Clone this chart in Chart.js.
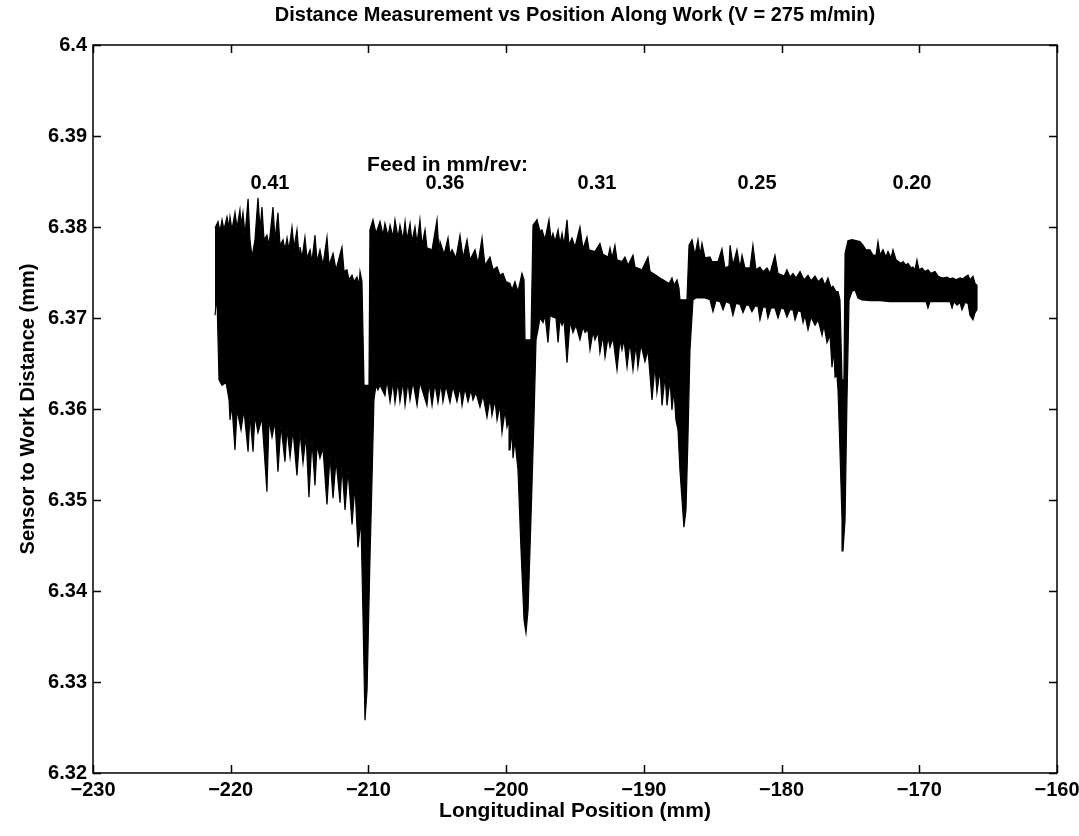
<!DOCTYPE html>
<html>
<head>
<meta charset="utf-8">
<script src="https://cdn.jsdelivr.net/npm/chart.js@4.4.1/dist/chart.umd.min.js"></script>
<style>
  html, body { margin: 0; padding: 0; background: #fff; }
</style>
</head>
<body>
<canvas id="graficoDistancia" width="1079" height="836"></canvas>
<script>
// Envolvente superior e inferior de la señal [posición mm, distancia mm]
const seg041Top = [[-221.14, 6.3799], [-220.92, 6.3806], [-220.78, 6.3795], [-220.63, 6.3808], [-220.49, 6.3797], [-220.27, 6.3811], [-220.12, 6.3799], [-220.05, 6.3811], [-219.91, 6.3797], [-219.69, 6.3816], [-219.54, 6.3799], [-219.33, 6.3819], [-219.25, 6.3802], [-219.11, 6.3816], [-218.96, 6.3791], [-218.74, 6.3831], [-218.60, 6.3786], [-218.45, 6.3767], [-218.24, 6.3786], [-218.02, 6.3832], [-217.87, 6.3797], [-217.73, 6.3822], [-217.58, 6.3786], [-217.37, 6.3791], [-217.22, 6.3780], [-216.93, 6.3822], [-216.78, 6.3786], [-216.57, 6.3816], [-216.42, 6.3780], [-216.20, 6.3786], [-216.06, 6.3775], [-215.91, 6.3788], [-215.77, 6.3775], [-215.55, 6.3800], [-215.40, 6.3777], [-215.19, 6.3797], [-215.04, 6.3769], [-214.97, 6.3778], [-214.82, 6.3766], [-214.61, 6.3789], [-214.46, 6.3766], [-214.24, 6.3775], [-214.10, 6.3762], [-213.88, 6.3791], [-213.73, 6.3762], [-213.52, 6.3775], [-213.30, 6.3758], [-213.01, 6.3789], [-212.86, 6.3758], [-212.57, 6.3771], [-212.35, 6.3753], [-211.92, 6.3778], [-211.77, 6.3751], [-211.56, 6.3753], [-211.41, 6.3742], [-211.19, 6.3747], [-211.05, 6.3740], [-210.83, 6.3745], [-210.68, 6.3736], [-210.61, 6.3751], [-210.47, 6.3740], [-210.32, 6.3626], [-209.96, 6.3626]];
const seg041Bot = [[-221.14, 6.3703], [-221.00, 6.3725], [-220.85, 6.3632], [-220.63, 6.3626], [-220.34, 6.3629], [-220.12, 6.3610], [-220.05, 6.3588], [-219.91, 6.3604], [-219.69, 6.3555], [-219.54, 6.3599], [-219.25, 6.3577], [-219.04, 6.3599], [-218.74, 6.3553], [-218.60, 6.3593], [-218.38, 6.3553], [-218.24, 6.3593], [-218.02, 6.3574], [-217.73, 6.3590], [-217.37, 6.3509], [-217.22, 6.3588], [-217.00, 6.3569], [-216.78, 6.3586], [-216.57, 6.3531], [-216.35, 6.3582], [-216.06, 6.3542], [-215.91, 6.3579], [-215.69, 6.3547], [-215.48, 6.3577], [-215.19, 6.3527], [-214.97, 6.3575], [-214.75, 6.3541], [-214.53, 6.3571], [-214.32, 6.3503], [-214.10, 6.3566], [-213.88, 6.3516], [-213.73, 6.3560], [-213.52, 6.3546], [-213.30, 6.3557], [-213.01, 6.3495], [-212.79, 6.3549], [-212.57, 6.3502], [-212.35, 6.3544], [-212.06, 6.3497], [-211.92, 6.3538], [-211.70, 6.3489], [-211.48, 6.3533], [-211.19, 6.3473], [-210.98, 6.3516], [-210.76, 6.3448], [-210.54, 6.3478], [-210.39, 6.3368], [-210.25, 6.3258], [-210.10, 6.3291], [-209.89, 6.3434], [-209.74, 6.3522], [-209.60, 6.3610]];

const seg036Top = [[-209.89, 6.3797], [-209.67, 6.3808], [-209.45, 6.3793], [-209.16, 6.3806], [-208.94, 6.3791], [-208.80, 6.3804], [-208.58, 6.3790], [-208.43, 6.3802], [-208.22, 6.3789], [-208.07, 6.3808], [-207.85, 6.3788], [-207.71, 6.3802], [-207.49, 6.3786], [-207.34, 6.3806], [-207.20, 6.3786], [-206.98, 6.3804], [-206.84, 6.3784], [-206.62, 6.3800], [-206.47, 6.3782], [-206.26, 6.3808], [-206.11, 6.3780], [-205.89, 6.3797], [-205.75, 6.3777], [-205.38, 6.3775], [-205.02, 6.3808], [-204.88, 6.3773], [-204.80, 6.3784], [-204.51, 6.3770], [-204.22, 6.3788], [-204.08, 6.3770], [-203.93, 6.3775], [-203.64, 6.3766], [-203.35, 6.3791], [-203.13, 6.3766], [-202.84, 6.3786], [-202.62, 6.3764], [-202.26, 6.3775], [-202.04, 6.3760], [-201.75, 6.3788], [-201.54, 6.3758], [-201.17, 6.3767], [-200.95, 6.3753], [-200.66, 6.3756], [-200.45, 6.3747], [-200.23, 6.3749], [-200.01, 6.3740], [-199.72, 6.3738], [-199.57, 6.3731], [-199.36, 6.3740], [-199.14, 6.3729], [-198.85, 6.3749], [-198.70, 6.3742], [-198.63, 6.3676], [-198.20, 6.3676]];
const seg036Bot = [[-209.45, 6.3626], [-209.31, 6.3621], [-209.16, 6.3626], [-208.80, 6.3615], [-208.65, 6.3632], [-208.43, 6.3608], [-208.22, 6.3630], [-208.07, 6.3607], [-207.85, 6.3630], [-207.71, 6.3608], [-207.49, 6.3630], [-207.34, 6.3604], [-207.13, 6.3630], [-206.98, 6.3610], [-206.76, 6.3630], [-206.47, 6.3604], [-206.26, 6.3629], [-205.75, 6.3604], [-205.60, 6.3629], [-205.38, 6.3604], [-205.17, 6.3628], [-204.95, 6.3607], [-204.73, 6.3628], [-204.59, 6.3608], [-204.37, 6.3626], [-204.08, 6.3607], [-203.86, 6.3625], [-203.57, 6.3608], [-203.35, 6.3624], [-203.20, 6.3604], [-202.99, 6.3623], [-202.77, 6.3608], [-202.55, 6.3621], [-202.41, 6.3610], [-202.19, 6.3618], [-201.90, 6.3602], [-201.68, 6.3615], [-201.39, 6.3591], [-201.17, 6.3612], [-201.03, 6.3593], [-200.81, 6.3610], [-200.66, 6.3588], [-200.45, 6.3604], [-200.30, 6.3574], [-200.08, 6.3599], [-199.94, 6.3580], [-199.79, 6.3588], [-199.72, 6.3555], [-199.57, 6.3577], [-199.50, 6.3546], [-199.36, 6.3566], [-199.14, 6.3533], [-198.92, 6.3445], [-198.70, 6.3368], [-198.56, 6.3354], [-198.41, 6.3379], [-198.20, 6.3478], [-197.98, 6.3588], [-197.83, 6.3676]];

const seg031Top = [[-198.05, 6.3802], [-197.76, 6.3808], [-197.54, 6.3795], [-197.40, 6.3797], [-197.18, 6.3786], [-196.89, 6.3808], [-196.74, 6.3786], [-196.60, 6.3793], [-196.45, 6.3784], [-196.23, 6.3797], [-196.09, 6.3782], [-195.94, 6.3793], [-195.80, 6.3780], [-195.58, 6.3808], [-195.44, 6.3780], [-195.22, 6.3788], [-195.00, 6.3778], [-194.64, 6.3800], [-194.42, 6.3776], [-194.13, 6.3789], [-193.98, 6.3775], [-193.55, 6.3773], [-193.19, 6.3782], [-192.97, 6.3770], [-192.60, 6.3767], [-192.46, 6.3777], [-192.31, 6.3766], [-192.10, 6.3780], [-191.95, 6.3764], [-191.59, 6.3762], [-191.37, 6.3767], [-191.15, 6.3758], [-190.79, 6.3769], [-190.64, 6.3756], [-190.13, 6.3753], [-189.70, 6.3767], [-189.55, 6.3751], [-189.12, 6.3747], [-188.83, 6.3744], [-188.61, 6.3742], [-188.17, 6.3738], [-187.96, 6.3744], [-187.81, 6.3736], [-187.59, 6.3742], [-187.45, 6.3733], [-187.38, 6.3720], [-186.87, 6.3720]];
const seg031Bot = [[-197.69, 6.3687], [-197.54, 6.3700], [-197.32, 6.3695], [-197.18, 6.3703], [-196.96, 6.3673], [-196.81, 6.3703], [-196.60, 6.3701], [-196.38, 6.3700], [-196.23, 6.3673], [-196.09, 6.3698], [-195.94, 6.3692], [-195.80, 6.3698], [-195.58, 6.3651], [-195.36, 6.3696], [-195.15, 6.3684], [-194.93, 6.3692], [-194.64, 6.3676], [-194.42, 6.3690], [-194.27, 6.3684], [-194.06, 6.3687], [-193.91, 6.3665], [-193.69, 6.3685], [-193.55, 6.3676], [-193.33, 6.3684], [-193.19, 6.3662], [-192.97, 6.3681], [-192.82, 6.3657], [-192.60, 6.3679], [-192.46, 6.3668], [-192.24, 6.3678], [-191.95, 6.3643], [-191.73, 6.3676], [-191.59, 6.3665], [-191.44, 6.3676], [-191.22, 6.3646], [-191.01, 6.3674], [-190.79, 6.3643], [-190.57, 6.3671], [-190.43, 6.3646], [-190.21, 6.3671], [-189.92, 6.3652], [-189.70, 6.3665], [-189.41, 6.3610], [-189.19, 6.3648], [-189.05, 6.3618], [-188.83, 6.3643], [-188.68, 6.3604], [-188.46, 6.3637], [-188.32, 6.3604], [-188.10, 6.3632], [-187.96, 6.3599], [-187.81, 6.3621], [-187.67, 6.3588], [-187.52, 6.3577], [-187.38, 6.3533], [-187.09, 6.3470], [-186.94, 6.3489], [-186.80, 6.3566], [-186.65, 6.3665], [-186.43, 6.3720]];

const seg025Top = [[-186.72, 6.3780], [-186.50, 6.3786], [-186.29, 6.3769], [-186.07, 6.3786], [-185.92, 6.3769], [-185.78, 6.3782], [-185.56, 6.3766], [-185.20, 6.3767], [-185.05, 6.3762], [-184.62, 6.3762], [-184.33, 6.3776], [-184.11, 6.3755], [-183.82, 6.3757], [-183.74, 6.3780], [-183.53, 6.3758], [-183.24, 6.3775], [-183.02, 6.3755], [-182.87, 6.3769], [-182.66, 6.3755], [-182.29, 6.3755], [-182.08, 6.3780], [-181.86, 6.3753], [-181.57, 6.3756], [-181.35, 6.3751], [-181.06, 6.3755], [-180.84, 6.3749], [-180.48, 6.3769], [-180.26, 6.3749], [-179.82, 6.3746], [-179.61, 6.3753], [-179.39, 6.3745], [-179.17, 6.3749], [-178.95, 6.3744], [-178.66, 6.3751], [-178.37, 6.3742], [-178.08, 6.3747], [-177.86, 6.3741], [-177.57, 6.3746], [-177.35, 6.3740], [-177.06, 6.3744], [-176.85, 6.3736], [-176.63, 6.3744], [-176.41, 6.3733], [-176.27, 6.3735], [-176.05, 6.3729], [-175.90, 6.3729], [-175.76, 6.3720], [-175.61, 6.3632], [-175.47, 6.3632]];
const seg025Bot = [[-186.21, 6.3722], [-185.92, 6.3722], [-185.56, 6.3722], [-185.20, 6.3720], [-184.98, 6.3707], [-184.76, 6.3719], [-184.47, 6.3718], [-184.25, 6.3709], [-184.04, 6.3718], [-183.74, 6.3716], [-183.53, 6.3703], [-183.31, 6.3716], [-183.02, 6.3715], [-182.80, 6.3706], [-182.58, 6.3714], [-182.37, 6.3714], [-182.15, 6.3707], [-181.93, 6.3713], [-181.71, 6.3713], [-181.57, 6.3698], [-181.35, 6.3712], [-181.13, 6.3712], [-180.99, 6.3700], [-180.77, 6.3711], [-180.48, 6.3711], [-180.26, 6.3700], [-180.04, 6.3711], [-179.82, 6.3710], [-179.61, 6.3701], [-179.39, 6.3709], [-179.17, 6.3709], [-179.02, 6.3698], [-178.81, 6.3708], [-178.59, 6.3707], [-178.44, 6.3695], [-178.30, 6.3703], [-178.08, 6.3687], [-177.86, 6.3701], [-177.57, 6.3692], [-177.35, 6.3698], [-177.06, 6.3681], [-176.92, 6.3692], [-176.70, 6.3673], [-176.48, 6.3681], [-176.34, 6.3646], [-176.19, 6.3665], [-176.12, 6.3635], [-175.98, 6.3637], [-175.90, 6.3621], [-175.76, 6.3555], [-175.61, 6.3478], [-175.54, 6.3444], [-175.39, 6.3478], [-175.25, 6.3610], [-175.10, 6.3720], [-174.89, 6.3729]];

const seg020Top = [[-175.39, 6.3771], [-175.18, 6.3785], [-174.89, 6.3786], [-174.60, 6.3785], [-174.31, 6.3784], [-174.09, 6.3780], [-173.87, 6.3775], [-173.58, 6.3775], [-173.36, 6.3769], [-173.14, 6.3769], [-173.00, 6.3784], [-172.85, 6.3769], [-172.64, 6.3775], [-172.42, 6.3767], [-172.27, 6.3773], [-172.05, 6.3766], [-171.91, 6.3775], [-171.69, 6.3764], [-171.33, 6.3760], [-171.18, 6.3762], [-170.96, 6.3758], [-170.82, 6.3760], [-170.60, 6.3755], [-170.46, 6.3756], [-170.31, 6.3753], [-170.17, 6.3764], [-170.02, 6.3753], [-169.80, 6.3755], [-169.59, 6.3751], [-169.37, 6.3753], [-169.15, 6.3749], [-168.86, 6.3751], [-168.64, 6.3746], [-168.50, 6.3745], [-168.28, 6.3744], [-167.99, 6.3745], [-167.77, 6.3743], [-167.55, 6.3744], [-167.33, 6.3742], [-167.04, 6.3744], [-166.83, 6.3743], [-166.68, 6.3745], [-166.46, 6.3747], [-166.32, 6.3742], [-166.10, 6.3746], [-165.95, 6.3738], [-165.81, 6.3736]];
const seg020Bot = [[-174.67, 6.3731], [-174.45, 6.3722], [-174.16, 6.3720], [-173.58, 6.3719], [-172.85, 6.3719], [-172.13, 6.3718], [-171.40, 6.3718], [-170.67, 6.3718], [-169.95, 6.3718], [-169.51, 6.3718], [-169.37, 6.3711], [-169.22, 6.3718], [-168.50, 6.3718], [-167.77, 6.3718], [-167.62, 6.3711], [-167.48, 6.3718], [-167.26, 6.3714], [-167.04, 6.3717], [-166.90, 6.3709], [-166.68, 6.3717], [-166.46, 6.3716], [-166.32, 6.3703], [-166.10, 6.3698], [-165.95, 6.3706], [-165.81, 6.3709]];

// Ejes
const xTicks = [-230, -220, -210, -200, -190, -180, -170, -160];
const yTicks = [6.32, 6.33, 6.34, 6.35, 6.36, 6.37, 6.38, 6.39, 6.40];

// Rótulos de avance
const feedTitulo = 'Feed in mm/rev:';
const feedTituloPos = [-210.1, 6.3868];
const feedLabels = ['0.41', '0.36', '0.31', '0.25', '0.20'];
const feedX = [-217.15, -204.44, -193.40, -181.78, -170.53];
const feedY = 6.3848;

const fuente = '"Liberation Sans", Arial, Helvetica, sans-serif';

// contorno cerrado: arriba de izquierda a derecha, abajo de derecha a izquierda
const arriba = [].concat(seg041Top, seg036Top, seg031Top, seg025Top, seg020Top);
const abajo = [].concat(seg041Bot, seg036Bot, seg031Bot, seg025Bot, seg020Bot).reverse();
const contorno = arriba.concat(abajo).map(p => ({ x: p[0], y: p[1] }));

const cajaMatlab = {
    id: 'cajaMatlab',
    afterDraw(chart) {
        const { ctx, chartArea: a, scales: { x, y } } = chart;
        const largo = 8;
        ctx.save();
        ctx.strokeStyle = '#000';
        ctx.lineWidth = 1.5;
        ctx.strokeRect(a.left, a.top, a.right - a.left, a.bottom - a.top);
        ctx.beginPath();
        x.ticks.forEach(t => {
            const px = Math.round(x.getPixelForValue(t.value)) + 0.5;
            ctx.moveTo(px, a.bottom); ctx.lineTo(px, a.bottom - largo);
            ctx.moveTo(px, a.top); ctx.lineTo(px, a.top + largo);
        });
        y.ticks.forEach(t => {
            const py = Math.round(y.getPixelForValue(t.value)) + 0.5;
            ctx.moveTo(a.left, py); ctx.lineTo(a.left + largo, py);
            ctx.moveTo(a.right, py); ctx.lineTo(a.right - largo, py);
        });
        ctx.stroke();
        ctx.restore();
    }
};

const anotaciones = {
    id: 'anotaciones',
    afterDatasetsDraw(chart) {
        const { ctx, scales: { x, y } } = chart;
        ctx.save();
        ctx.fillStyle = '#000';
        ctx.textBaseline = 'middle';
        ctx.textAlign = 'left';
        ctx.font = 'bold 21px ' + fuente;
        ctx.fillText(feedTitulo, x.getPixelForValue(feedTituloPos[0]), y.getPixelForValue(feedTituloPos[1]));
        ctx.textAlign = 'center';
        ctx.font = 'bold 20px ' + fuente;
        feedLabels.forEach((t, i) => {
            ctx.fillText(t, x.getPixelForValue(feedX[i]), y.getPixelForValue(feedY));
        });
        ctx.restore();
    }
};

const ctx = document.getElementById('graficoDistancia').getContext('2d');
const grafico = new Chart(ctx, {
    type: 'scatter',
    data: {
        datasets: [{
            data: contorno,
            showLine: true,
            fill: 'shape',
            borderColor: '#000',
            backgroundColor: '#000',
            borderWidth: 1.2,
            pointRadius: 0,
            tension: 0
        }]
    },
    options: {
        responsive: false,
        animation: false,
        devicePixelRatio: 1,
        layout: { padding: { left: 6, right: 22, top: 0, bottom: 8 } },
        plugins: {
            legend: { display: false },
            tooltip: { enabled: false },
            title: {
                display: true,
                fullSize: false,
                text: 'Distance Measurement vs Position Along Work (V = 275 m/min)',
                color: '#000',
                font: { family: fuente, size: 20, weight: 'bold', lineHeight: 1.2 },
                padding: { top: 3, bottom: 18 }
            }
        },
        scales: {
            x: {
                type: 'linear',
                min: -230,
                max: -160,
                afterBuildTicks: s => { s.ticks = xTicks.map(v => ({ value: v })); },
                afterFit: s => { s.height = 55; s.paddingRight = 0; },
                ticks: {
                    color: '#000',
                    padding: 5,
                    maxRotation: 0,
                    font: { family: fuente, size: 20, weight: 'bold' },
                    callback: v => (v < 0 ? '\u2212' + Math.abs(v) : String(v))
                },
                grid: { display: false, drawTicks: false },
                border: { display: false },
                title: {
                    display: true,
                    text: 'Longitudinal Position (mm)',
                    color: '#000',
                    font: { family: fuente, size: 21, weight: 'bold' },
                    padding: { top: 0, bottom: 4 }
                }
            },
            y: {
                type: 'linear',
                min: 6.32,
                max: 6.40,
                afterBuildTicks: s => { s.ticks = yTicks.map(v => ({ value: v })); },
                afterFit: s => { s.width = 87; },
                ticks: {
                    color: '#000',
                    padding: 6,
                    font: { family: fuente, size: 20, weight: 'bold' },
                    callback: v => String(Number(v.toFixed(2)))
                },
                grid: { display: false, drawTicks: false },
                border: { display: false },
                title: {
                    display: true,
                    text: 'Sensor to Work Distance (mm)',
                    color: '#000',
                    font: { family: fuente, size: 20, weight: 'bold' },
                    padding: { top: 10, bottom: 0 }
                }
            }
        }
    },
    plugins: [anotaciones, cajaMatlab]
});
</script>
</body>
</html>
